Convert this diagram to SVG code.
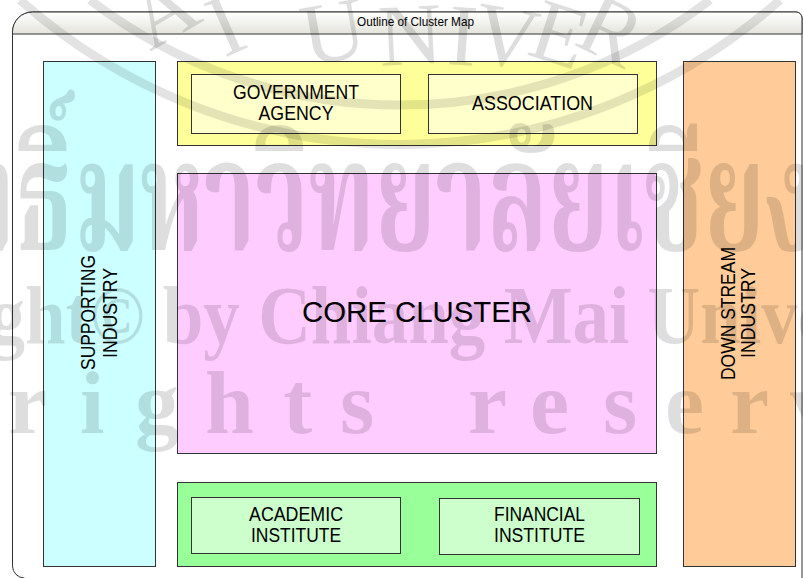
<svg xmlns="http://www.w3.org/2000/svg" width="803" height="578" viewBox="0 0 803 578">
  <defs>
    <linearGradient id="hdr" x1="0" y1="0" x2="0" y2="1">
      <stop offset="0" stop-color="#ffffff"/>
      <stop offset="1" stop-color="#e4e4dc"/>
    </linearGradient>
  </defs>
  <style>
    .box { stroke: #333333; stroke-width: 1; }
    .lbl { font-family: "Liberation Sans", Arial, sans-serif; font-size: 19.5px; fill: #000000; text-anchor: middle; }
    .wm { fill: #000000; fill-opacity: 0.13; }
    .wmline { fill: none; stroke: #000000; stroke-opacity: 0.11; stroke-width: 9; }
    .serif { font-family: "Liberation Serif", "Times New Roman", serif; }
    .thai { font-family: "Noto Serif Thai", "Noto Sans Thai", Garuda, Loma, sans-serif; font-weight: bold; }
  </style>

  <rect width="803" height="578" fill="#ffffff"/>

  <!-- outer frame with header band -->
  <g id="frame">
    <path d="M24.5,578 A12,12 0 0 1 12.5,566 L12.5,32 A20,20 0 0 1 32.5,12 L796,12 A6,6 0 0 1 802,18 L802,578" fill="#ffffff" stroke="#333333" stroke-width="1"/>
    <path d="M12.5,34 L12.5,32 A20,20 0 0 1 32.5,12 L796,12 A6,6 0 0 1 802,18 L802,34 Z" fill="url(#hdr)" stroke="#333333" stroke-width="1"/>
    <text x="415.5" y="26" font-family="Liberation Sans, Arial, sans-serif" font-size="13" text-anchor="middle" textLength="117" lengthAdjust="spacingAndGlyphs">Outline of Cluster Map</text>
  </g>

  <g id="supporting-industry">
    <rect class="box" x="43.5" y="61.5" width="112" height="505" fill="#ccffff"/>
    <text class="lbl" transform="translate(95,312.5) rotate(-90)" textLength="115" lengthAdjust="spacingAndGlyphs">SUPPORTING</text>
    <text class="lbl" transform="translate(117,313) rotate(-90)" textLength="90" lengthAdjust="spacingAndGlyphs">INDUSTRY</text>
  </g>

  <g id="support-organisations">
    <rect class="box" x="177.5" y="61.5" width="479" height="84" fill="#ffff99"/>
  </g>
  <g id="government-agency">
    <rect class="box" x="191.5" y="74.5" width="209" height="59" fill="#ffffcc"/>
    <text class="lbl" x="296" y="99" textLength="126" lengthAdjust="spacingAndGlyphs">GOVERNMENT</text>
    <text class="lbl" x="296" y="120" textLength="75" lengthAdjust="spacingAndGlyphs">AGENCY</text>
  </g>
  <g id="association">
    <rect class="box" x="428.5" y="74.5" width="209" height="59" fill="#ffffcc"/>
    <text class="lbl" x="532.5" y="110" textLength="121" lengthAdjust="spacingAndGlyphs">ASSOCIATION</text>
  </g>

  <g id="core-cluster">
    <rect class="box" x="177.5" y="173.5" width="479" height="280" fill="#ffccff"/>
    <text x="417" y="322" font-family="Liberation Sans, Arial, sans-serif" font-size="30" text-anchor="middle" textLength="230" lengthAdjust="spacingAndGlyphs">CORE CLUSTER</text>
  </g>

  <g id="institutions">
    <rect class="box" x="177.5" y="482.5" width="479" height="84" fill="#99ff99"/>
  </g>
  <g id="academic-institute">
    <rect class="box" x="191.5" y="497.5" width="209" height="56" fill="#ccffcc"/>
    <text class="lbl" x="296" y="521" textLength="94" lengthAdjust="spacingAndGlyphs">ACADEMIC</text>
    <text class="lbl" x="296" y="542" textLength="90" lengthAdjust="spacingAndGlyphs">INSTITUTE</text>
  </g>
  <g id="financial-institute">
    <rect class="box" x="439.5" y="498.5" width="200" height="56" fill="#ccffcc"/>
    <text class="lbl" x="539.5" y="521" textLength="91" lengthAdjust="spacingAndGlyphs">FINANCIAL</text>
    <text class="lbl" x="539.5" y="542" textLength="91" lengthAdjust="spacingAndGlyphs">INSTITUTE</text>
  </g>

  <g id="down-stream-industry">
    <rect class="box" x="683.5" y="61.5" width="112" height="505" fill="#ffcc99"/>
    <text class="lbl" transform="translate(735,313.5) rotate(-90)" textLength="133" lengthAdjust="spacingAndGlyphs">DOWN STREAM</text>
    <text class="lbl" transform="translate(755,313) rotate(-90)" textLength="90" lengthAdjust="spacingAndGlyphs">INDUSTRY</text>
  </g>

  <g id="connectors"/>

  <!-- faint copyright overlay -->
  <g id="watermark">
    <path class="wmline" d="M20,0 A572,572 0 0 0 780,0"/>
    <path class="wmline" d="M90,0 A510,510 0 0 0 710,0"/>
    <text class="wm serif" font-size="88" x="150 224 255 307 380 446 470 525 572" y="52 58 64 66 66 64 60 54 44" rotate="-30 -24 0 -10 -3 4 10 18 26">AI UNIVER</text>
    <text class="wm thai" font-size="155" transform="scale(0.633 1)" x="118" y="250">มหาวิทยาลัยเชียงใหม่</text>
    <text class="wm thai" font-size="155" transform="scale(0.633 1)" x="115" y="250" text-anchor="end">ลิขสิทธิ์</text>
    <text class="wm serif" font-size="83" font-weight="bold" transform="scale(0.88 1)" x="-262" y="343">Copyright© by Chiang Mai University</text>
    <text class="wm serif" font-size="88" font-weight="bold" x="-230 -160 -95 -40 8 80 135 205 283 340 400 468 530 603 665 730 790 860 930" y="433">All rights reserved</text>
  </g>
</svg>
